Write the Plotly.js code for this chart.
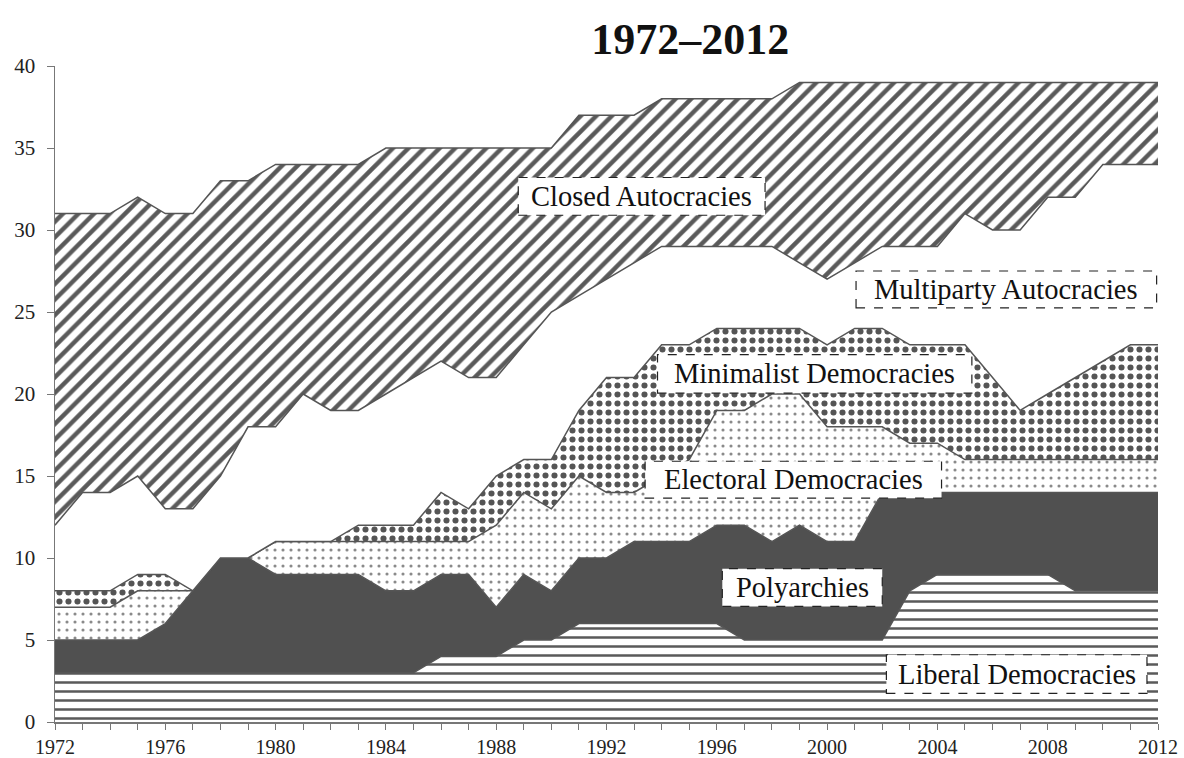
<!DOCTYPE html>
<html>
<head>
<meta charset="utf-8">
<script src="https://cdn.plot.ly/plotly-3.0.1.min.js"></script>
<style>
  html, body { margin: 0; padding: 0; background: #fff; }
  #chart { width: 1184px; height: 758px; }
</style>
</head>
<body>
<div id="chart"></div>
<script>
// ---- Data (counts per regime type, stacked) ----
const years = [1972,1973,1974,1975,1976,1977,1978,1979,1980,1981,1982,1983,1984,1985,1986,1987,1988,1989,1990,1991,1992,1993,1994,1995,1996,1997,1998,1999,2000,2001,2002,2003,2004,2005,2006,2007,2008,2009,2010,2011,2012];

const liberalDemocracies   = [3,3,3,3,3,3,3,3,3,3,3,3,3,3,4,4,4,5,5,6,6,6,6,6,6,5,5,5,5,5,5,8,9,9,9,9,9,8,8,8,8];
const polyarchies          = [2,2,2,2,3,5,7,7,6,6,6,6,5,5,5,5,3,4,3,4,4,5,5,5,6,7,6,7,6,6,9,6,5,5,5,5,5,6,6,6,6];
const electoralDemocracies = [2,2,2,3,2,0,0,0,2,2,2,2,3,3,2,2,5,5,5,5,4,3,4,5,7,7,9,8,7,7,4,3,3,2,2,2,2,2,2,2,2];
const minimalistDemocracies= [1,1,1,1,1,0,0,0,0,0,0,1,1,1,3,2,3,2,3,4,7,7,8,7,5,5,4,4,5,6,6,6,6,7,5,3,4,5,6,7,7];
const multipartyAutocracies= [4,6,6,6,4,5,5,8,7,9,8,7,8,9,8,8,6,7,9,7,6,7,6,6,5,5,5,4,4,4,5,6,6,8,9,11,12,11,12,11,11];
const closedAutocracies    = [19,17,17,17,18,18,18,15,16,14,15,15,15,14,13,14,14,12,10,11,10,9,9,9,9,9,9,11,12,11,10,10,10,8,9,9,7,7,5,5,5];

const seriesNames = ["Liberal Democracies","Polyarchies","Electoral Democracies","Minimalist Democracies","Multiparty Autocracies","Closed Autocracies"];
const xTickVals = [1972,1976,1980,1984,1988,1992,1996,2000,2004,2008,2012];
const titleText = "1972–2012";

// ---- Styling ----
const lineCol = "#555555";
const serif = "Liberation Serif, Times New Roman, serif";

const styles = [
  {fillpattern:{shape:"-", fgcolor:"#5a5a5a", bgcolor:"#ffffff", size:9, solidity:0.28}},
  {fillcolor:"#505050"},
  {fillpattern:{shape:".", fgcolor:"#8a8a8a", bgcolor:"#ffffff", size:8, solidity:0.12}},
  {fillpattern:{shape:".", fgcolor:"#555555", bgcolor:"#ffffff", size:9, solidity:0.36}},
  {fillcolor:"#ffffff"},
  {fillpattern:{shape:"/", fgcolor:"#5a5a5a", bgcolor:"#ffffff", size:11, solidity:0.4}}
];
const values = [liberalDemocracies, polyarchies, electoralDemocracies, minimalistDemocracies, multipartyAutocracies, closedAutocracies];

const traces = values.map((v, i) => Object.assign({
  type: "scatter",
  mode: "lines",
  x: years,
  y: v,
  name: seriesNames[i],
  stackgroup: "one",
  line: {color: lineCol, width: 1.5, shape: "linear"},
  hoverinfo: "skip"
}, styles[i]));

// ---- Labels (boxes in data coords) ----
const labelBoxes = [
  {text:"Closed Autocracies",     x0:1988.8, x1:1997.75, y0:30.9, y1:33.2},
  {text:"Multiparty Autocracies", x0:2001.05, x1:2011.95, y0:25.25, y1:27.5},
  {text:"Minimalist Democracies", x0:1993.85, x1:2005.25, y0:20.05, y1:22.4},
  {text:"Electoral Democracies",  x0:1993.4, x1:2004.15, y0:13.65, y1:15.9},
  {text:"Polyarchies",            x0:1996.2, x1:2002.0, y0:7.05, y1:9.35},
  {text:"Liberal Democracies",    x0:2002.15, x1:2011.6, y0:1.75, y1:4.1}
];

const shapes = labelBoxes.map(b => ({
  type:"rect", xref:"x", yref:"y", x0:b.x0, x1:b.x1, y0:b.y0, y1:b.y1,
  fillcolor:"#ffffff", line:{color:"#222", width:1.2, dash:"dash"}, layer:"above"
}));
const annotations = labelBoxes.map(b => ({
  xref:"x", yref:"y", x:(b.x0+b.x1)/2, y:(b.y0+b.y1)/2,
  text:b.text, showarrow:false, xanchor:"center", yanchor:"middle",
  font:{family:serif, size:28.5, color:"#111"}
}));

const layout = {
  width: 1184, height: 758,
  paper_bgcolor: "#ffffff", plot_bgcolor: "#ffffff",
  margin: {l:55, r:26, t:66, b:36},
  showlegend: false,
  title: {
    text: "<b>" + titleText + "</b>",
    font: {family: serif, size: 44, color: "#111"},
    x: 0.576, xanchor: "center", xref: "paper",
    y: 0.949, yanchor: "middle", yref: "container"
  },
  xaxis: {
    range: [1972, 2012],
    tickmode: "array", tickvals: xTickVals,
    showgrid: false, zeroline: false,
    showline: true, linecolor: "#777", linewidth: 1.5,
    ticks: "outside", ticklen: 6, tickcolor: "#777", tickwidth: 1,
    minor: {dtick: 1, tick0: 1972, ticks: "outside", ticklen: 6, tickcolor: "#777", showgrid: false},
    tickfont: {family: serif, size: 20, color: "#222"}
  },
  yaxis: {
    range: [0, 40], dtick: 5, tick0: 0,
    showgrid: false, zeroline: false,
    showline: true, linecolor: "#777", linewidth: 1.5,
    ticks: "outside", ticklen: 7, tickcolor: "#777",
    ticklabelstandoff: 7,
    tickfont: {family: serif, size: 21, color: "#222"}
  },
  shapes: shapes,
  annotations: annotations
};

Plotly.newPlot("chart", traces, layout, {displayModeBar: false, staticPlot: true});
</script>
</body>
</html>
